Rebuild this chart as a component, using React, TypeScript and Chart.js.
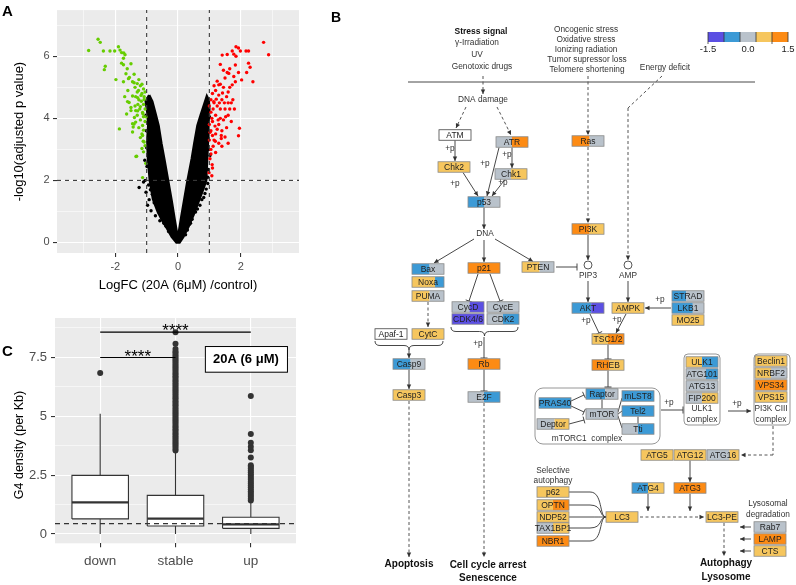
import React, { useEffect, useRef } from 'react';
import { Chart, registerables } from 'chart.js';

Chart.register(...registerables);

const FONT = '"Liberation Sans", Arial, Helvetica, sans-serif';

// ---------------- Panel A : volcano plot ----------------
const volcanoXTicks = [-3, -2, -1, 0, 1, 2, 3];
const volcanoYTicks = [0, 1, 2, 3, 4, 5, 6, 7];
const volcanoXLimits = [-3.86, 3.86];
const volcanoYLimits = [-0.34, 7.49];
const fcCutoffs = [-1, 1];
const pCutoff = 2;

// significantly down-regulated genes (green)
const downX = [-2.55, -2.48, -2.85, -2.38, -2.17, -2.02, -1.9, -1.85, -1.8, -1.73, -1.69, -1.74, -2.32, -2.35, -1.8, -1.74, -1.5, -1.66, -1.98, -1.74, -1.58, -1.45, -1.61, -1.37, -1.26, -1.87, -1.32, -1.13, -1.11, -1.13, -1.45, -1.39, -1.29, -1.5,
  -1.45, -1.29, -1.18, -1.08, -1.56, -1.37, -1.22, -1.13, -1.64, -1.4, -1.43, -1.13, -1.15, -1.45, -1.08, -1.15, -1.34,
  -1.2, -1.1, -1.3, -1.15, -1.05, -1.25, -1.35, -1.1, -1.2, -1.05, -1.3, -1.1, -1.2, -1.05, -1.35, -1.55, -1.4, -1.6, -1.5, -1.7, -1.25, -1.1, -1.2, -1.05, -1.1, -1.03, -1.62, -1.4, -1.12, -1.17, -1.08, -1.28, -1.02, -1.25, -1.35, -1.3, -1.15];
const downY = [6.55, 6.45, 6.19, 6.17, 6.17, 6.17, 6.31, 6.2, 6.12, 6.11, 6.05, 5.94, 5.68, 5.57, 5.78, 5.73, 5.76, 5.44, 5.25, 5.18, 5.28, 5.18, 4.54, 5.0, 4.9, 3.66, 2.78, 2.09, 3.26, 3.45, 3.83, 4.03, 4.24, 4.35,
  4.72, 4.67, 4.74, 4.61, 4.51, 4.4, 4.3, 4.19, 4.14, 3.82, 3.72, 3.77, 3.5, 3.56, 3.24, 3.03, 2.77,
  5.05, 4.95, 4.85, 4.8, 4.85, 4.6, 4.7, 4.45, 4.38, 4.3, 4.1, 4.05, 3.95, 3.9, 3.88, 5.32, 5.42, 4.9, 4.25, 4.7, 5.25, 3.62, 3.38, 3.12, 2.92, 2.55, 5.6, 5.15, 4.15, 4.55, 4.7, 4.45, 4.05, 3.7, 4.25, 5.12, 5.1];

// significantly up-regulated genes (red)
const upX = [2.73, 2.89, 1.85, 1.93, 1.99, 2.17, 2.25, 1.73, 1.78, 1.57, 1.41, 1.85, 1.35, 1.83, 2.25, 2.3, 1.65, 1.57, 1.93, 2.19, 2.03, 1.83, 2.39, 1.73, 1.3, 1.96, 1.93, 1.09, 0.99, 1.38, 1.19, 1.14,
  1.05, 1.1, 1.2, 1.3, 1.15, 1.25, 1.4, 1.5, 1.05, 1.2, 1.35, 1.1, 1.3, 1.45, 1.6, 1.05, 1.2, 1.4, 1.15, 1.3, 1.5, 1.05, 1.2, 1.02, 1.1, 1.08, 1.55, 1.7, 1.6, 1.45, 1.35, 1.25, 1.5, 1.65, 1.75, 1.15, 1.0, 1.0, 1.35, 1.25, 1.55, 1.7, 1.8, 1.4, 1.6, 1.1, 1.05, 1.0,
  1.12, 1.22, 1.32, 1.42, 1.08, 1.18, 1.28, 1.38, 1.02, 1.12, 1.48, 1.6, 1.52, 1.65, 1.62, 1.78, 1.45];
const upY = [6.45, 6.05, 6.31, 6.27, 6.17, 6.17, 6.17, 6.17, 6.07, 6.06, 6.04, 6.0, 5.74, 5.72, 5.78, 5.65, 5.6, 5.48, 5.48, 5.48, 5.24, 5.18, 5.18, 5.08, 5.08, 3.68, 3.44, 2.51, 2.25, 3.35, 3.26, 4.54,
  4.6, 4.8, 4.9, 4.75, 4.5, 4.4, 4.6, 4.3, 4.2, 4.1, 4.0, 3.9, 3.8, 3.95, 4.1, 3.6, 3.5, 3.6, 3.3, 3.2, 3.4, 3.0, 2.9, 2.7, 2.4, 2.15, 4.7, 4.5, 4.85, 5.0, 5.1, 5.2, 5.3, 5.0, 4.6, 5.05, 4.4, 3.8, 4.3, 3.65, 3.7, 3.9, 4.3, 3.1, 3.2, 3.45, 2.85, 3.3,
  4.3, 4.62, 4.5, 4.82, 4.0, 3.75, 3.95, 3.45, 3.55, 3.1, 4.5, 4.5, 4.05, 4.3, 5.45, 5.35, 5.55];

// outline of the dense cloud of non-significant genes (black)
const stableHullX = [-0.92, -1.03, -0.98, -0.95, -0.98, -0.96, -0.9, -0.8, -0.65, -0.5, -0.35, -0.2, -0.05, 0.05, 0.17, 0.33, 0.5, 0.65, 0.8, 0.9, 0.93, 0.96, 0.97, 1.0, 0.98, 0.92,
  0.85, 0.72, 0.62, 0.52, 0.44, 0.3, 0.19, 0.1, 0.03, 0.0, -0.04, -0.1, -0.2, -0.31, -0.44, -0.53, -0.62, -0.73, -0.82, -0.92];
const stableHullY = [4.75, 4.55, 4.2, 3.8, 3.3, 2.7, 2.0, 1.4, 1.0, 0.7, 0.45, 0.18, 0.0, 0.0, 0.18, 0.5, 0.9, 1.3, 1.7, 2.0, 2.7, 3.3, 3.8, 4.3, 4.6, 4.72,
  4.5, 4.1, 3.77, 3.2, 2.71, 1.97, 1.33, 0.8, 0.35, 0.25, 0.35, 0.7, 1.33, 1.97, 2.71, 3.2, 3.77, 4.2, 4.55, 4.75];
// scattered non-significant genes at the edge of the cloud
const stableEdgeX = [-1.24, -0.92, -0.82, -0.78, -0.97, -0.86, -0.72, -1.02, -0.99, -1.0, -1.01, -1.02, 0.95, 0.86, 0.76, 0.62, 0.97, 0.98, 0.99, 1.0, -0.58, 0.45, -0.3, 0.3,
  -1.05, -0.94, -0.88, -0.76, -0.68, -0.6, -0.45, -1.06, -1.1, 0.9, 0.82, 0.7, 0.56, 0.4, 1.02, 0.95, -0.55, -0.38, 0.24, 0.36];
const stableEdgeY = [1.77, 1.38, 1.55, 2.22, 1.2, 1.02, 0.86, 1.62, 2.45, 3.05, 3.6, 4.1, 1.9, 1.58, 1.38, 1.08, 2.35, 3.0, 3.55, 4.05, 0.7, 0.75, 0.35, 0.4,
  2.0, 1.85, 1.7, 1.28, 1.15, 0.95, 0.62, 2.65, 1.95, 1.72, 1.45, 1.2, 0.98, 0.62, 2.8, 2.1, 0.88, 0.52, 0.25, 0.58];

// ---------------- Panel C : box plot ----------------
const boxCategories = ['down', 'stable', 'up'];
const boxLow = [0, 0, 0];
const boxQ1 = [0.64, 0.34, 0.24];
const boxMedian = [1.34, 0.65, 0.41];
const boxQ3 = [2.49, 1.64, 0.71];
const boxHigh = [5.11, 3.49, 1.37];
const downOutliers = [6.84];
const stableOutliers = [3.55, 3.62, 3.7, 3.78, 3.85, 3.93, 4.0, 4.08, 4.15, 4.23, 4.3, 4.38, 4.45, 4.53, 4.6, 4.68, 4.75, 4.83, 4.9, 4.98, 5.05, 5.13, 5.2, 5.28, 5.35, 5.43, 5.5, 5.58, 5.65, 5.73, 5.8, 5.88, 5.95, 6.03, 6.1, 6.18, 6.25, 6.33, 6.4, 6.48, 6.55, 6.63, 6.7, 6.78, 6.85, 6.93, 7.0, 7.08, 7.15, 7.23, 7.3, 7.38, 7.45, 7.53, 7.6, 7.68, 7.75, 7.85, 8.08, 8.57];
const upOutliers = [1.42, 1.5, 1.58, 1.66, 1.74, 1.82, 1.9, 1.98, 2.06, 2.14, 2.22, 2.3, 2.38, 2.46, 2.54, 2.62, 2.7, 2.78, 2.86, 2.92, 3.25, 3.56, 3.7, 3.87, 4.25, 5.86];
const boxYTicks = [0, 1.25, 2.5, 3.75, 5, 6.25, 7.5, 8.75];
const boxYLabels = [0, 2.5, 5, 7.5];
const boxYLimits = [-0.395, 9.17];
const boxXLimits = [-0.6, 2.6];
const genomeMedian = 0.44;
const sigFrom = [0, 0];
const sigTo = [2, 1];
const sigY = [8.57, 7.49];
const sigText = ['****', '****'];

// ---------------- Panel B : pathway diagram ----------------
const PAL: Record<string, string> = { P: '#5b4fe3', B: '#3c9ad6', G: '#b9c2cb', Y: '#f6c65e', O: '#fd8b14', W: '#ffffff' };
const legendColors = ['P', 'B', 'G', 'Y', 'O'];
const legendLabels = ['-1.5', '0.0', '1.5'];

const nodeLabels = ['ATM', 'ATR', 'Chk2', 'Chk1', 'Ras', 'p53', 'Bax', 'Noxa', 'PUMA', 'p21', 'PTEN', 'CycD', 'CycE', 'CDK4/6', 'CDK2', 'Apaf-1', 'CytC', 'Casp9', 'Casp3', 'Rb', 'E2F',
  'PI3K', 'AKT', 'AMPK', 'STRAD', 'LKB1', 'MO25', 'TSC1/2', 'RHEB', 'Raptor', 'mLST8', 'PRAS40', 'mTOR', 'Tel2', 'Tti', 'Deptor',
  'ULK1', 'ATG101', 'ATG13', 'FIP200', 'Beclin1', 'NRBF2', 'VPS34', 'VPS15', 'ATG5', 'ATG12', 'ATG16', 'ATG4', 'ATG3', 'LC3', 'LC3-PE', 'Rab7', 'LAMP', 'CTS',
  'p62', 'OPTN', 'NDP52', 'TAX1BP1', 'NBR1'];
const nodeX = [455, 512, 454, 511, 588, 484, 428, 428, 428, 484, 538, 468, 503, 468, 503, 391, 428, 409, 409, 484, 484,
  588, 588, 628, 688, 688, 688, 608, 608, 602, 638, 555, 602, 638, 638, 553,
  702, 702, 702, 702, 771, 771, 771, 771, 657, 690, 723, 648, 690, 622, 722, 770, 770, 770,
  553, 553, 553, 553, 553];
const nodeY = [135, 142, 167, 174, 141, 202, 269, 282, 296, 268, 267, 307, 307, 319, 319, 334, 334, 364, 395, 364, 397,
  229, 308, 308, 296, 308, 320, 339, 365, 394, 396, 403, 414, 411, 429, 424,
  362, 374, 386, 398, 361, 373, 385, 397, 455, 455, 455, 488, 488, 517, 517, 527, 539, 551,
  492, 505, 517, 528, 541];
const nodeLeft = ['W', 'G', 'Y', 'G', 'O', 'B', 'B', 'Y', 'Y', 'O', 'Y', 'G', 'G', 'P', 'G', 'W', 'Y', 'B', 'Y', 'O', 'G',
  'O', 'B', 'Y', 'B', 'B', 'Y', 'Y', 'O', 'B', 'B', 'B', 'G', 'B', 'G', 'G',
  'Y', 'G', 'G', 'G', 'Y', 'Y', 'O', 'Y', 'Y', 'Y', 'G', 'B', 'O', 'Y', 'Y', 'G', 'O', 'Y',
  'Y', 'Y', 'Y', 'G', 'O'];
const nodeRight = ['W', 'O', 'Y', 'Y', 'G', 'G', 'G', 'B', 'G', 'O', 'G', 'P', 'G', 'P', 'B', 'W', 'Y', 'G', 'Y', 'O', 'B',
  'Y', 'P', 'Y', 'G', 'G', 'Y', 'O', 'Y', 'G', 'B', 'B', 'G', 'B', 'B', 'Y',
  'B', 'B', 'G', 'Y', 'Y', 'G', 'O', 'Y', 'Y', 'Y', 'Y', 'Y', 'O', 'Y', 'Y', 'G', 'O', 'Y',
  'Y', 'O', 'Y', 'Y', 'O'];
const nodeSplit = [1, 0.5, 1, 0.5, 0.55, 0.5, 0.55, 0.72, 0.55, 1, 0.55, 0.55, 1, 1, 0.5, 1, 1, 0.55, 1, 1, 0.5,
  0.55, 0.6, 1, 0.45, 0.65, 1, 0.5, 0.55, 0.6, 1, 1, 1, 1, 0.5, 0.55,
  0.5, 0.62, 1, 0.5, 1, 0.5, 1, 1, 1, 1, 0.7, 0.5, 1, 1, 1, 1, 1, 1,
  1, 0.5, 1, 0.5, 1];

// edges: x1, y1, x2, y2, kind (a arrow, t inhibition, d dashed arrow, dl dashed line, l line)
const pathEdges: [number, number, number, number, string][] = [
  [408, 82, 755, 82, 'l'],
  [483, 76, 483, 94, 'd'], [466, 107, 456, 128, 'd'], [497, 107, 511, 135, 'd'],
  [455, 140.5, 455, 161, 'a'], [512, 147.5, 512, 168, 'a'], [499, 147.5, 487, 196, 'a'],
  [463, 172.5, 478, 196, 'a'], [505, 179.5, 492, 196, 'a'], [484, 207.5, 484, 229, 'a'],
  [474, 239, 434, 263, 'a'], [484, 240, 484, 262, 'a'], [495, 239, 533, 261.5, 'a'],
  [556, 267, 577, 267, 't'], [428, 302, 428, 327, 'd'], [409, 350, 409, 358, 'a'], [409, 369.5, 409, 389, 'a'],
  [478, 274, 469, 301, 't'], [490, 274, 500, 301, 't'], [484, 337, 484, 358, 't'], [484, 369.5, 484, 391, 't'],
  [409, 401, 409, 557, 'd'], [484, 403, 484, 557, 'd'],
  [588, 76, 588, 135, 'd'], [588, 147, 588, 223, 'd'], [662, 76, 628, 108, 'dl'], [628, 108, 628, 260, 'd'],
  [588, 235, 588, 260, 'a'], [588, 281, 588, 302, 'a'], [628, 281, 628, 302, 'a'], [671, 308, 645, 308, 'a'],
  [590, 314, 599, 333, 't'], [626, 314, 616, 333, 'a'], [608, 344.5, 608, 359, 't'], [608, 370.5, 608, 387, 't'],
  [571, 401, 584, 395, 't'], [571, 406, 584, 412, 't'], [569, 424, 584, 420, 't'],
  [602, 399.5, 602, 408.5, 'l'], [618, 412, 622, 398, 'l'], [618, 414, 622, 411, 'l'], [618, 416, 622, 428, 'l'], [638, 416.5, 638, 423.5, 'l'],
  [661, 410, 683, 410, 't'], [728, 411, 751, 411, 'a'],
  [773, 426, 773, 455, 'dl'], [773, 455, 741, 455, 'd'], [690, 460.5, 690, 482, 'a'],
  [648, 494, 648, 511, 'a'], [690, 494, 690, 511, 'a'], [640, 517, 704, 517, 'd'], [724, 523, 724, 556, 'd'],
  [751, 527, 740, 527, 'a'], [751, 539, 740, 539, 'a'], [751, 551, 740, 551, 'a'],
];

// texts: label, x, y, style (n normal, b bold small, B bold large)
const pathTexts: [string, number, number, string][] = [
  ['Stress signal', 481, 32, 'b'], ['γ-Irradiation', 477, 43, 'n'], ['UV', 477, 55, 'n'], ['Genotoxic drugs', 482, 67, 'n'],
  ['Oncogenic stress', 586, 30, 'n'], ['Oxidative stress', 586, 40, 'n'], ['Ionizing radiation', 586, 50, 'n'],
  ['Tumor supressor loss', 587, 60, 'n'], ['Telomere shortening', 587, 70, 'n'], ['Energy deficit', 665, 68, 'n'],
  ['DNA damage', 483, 99.5, 'n'], ['DNA', 485, 234, 'n'], ['PIP3', 588, 276, 'n'], ['AMP', 628, 276, 'n'],
  ['mTORC1  complex', 587, 438.5, 'n'], ['ULK1', 702, 409, 'n'], ['complex', 702, 420, 'n'],
  ['PI3K CIII', 771, 409, 'n'], ['complex', 771, 420, 'n'], ['Selective', 553, 471, 'n'], ['autophagy', 553, 481, 'n'],
  ['Lysosomal', 768, 504, 'n'], ['degradation', 768, 515, 'n'],
  ['Apoptosis', 409, 564, 'B'], ['Cell cycle arrest', 488, 565, 'B'], ['Senescence', 488, 578, 'B'],
  ['Autophagy', 726, 563, 'B'], ['Lysosome', 726, 577, 'B'],
  ['+p', 450, 149, 'n'], ['+p', 507, 155, 'n'], ['+p', 485, 164, 'n'], ['+p', 455, 184, 'n'], ['+p', 503, 183, 'n'],
  ['+p', 478, 344, 'n'], ['+p', 660, 300, 'n'], ['+p', 586, 321, 'n'], ['+p', 617, 320, 'n'], ['+p', 669, 403, 'n'], ['+p', 737, 404, 'n'],
];
const circleNodes: [number, number][] = [[588, 265], [628, 265]];
const complexBoxes: [number, number, number, number, number][] = [[535, 388, 660, 444, 8], [684, 354, 720, 425, 4], [754, 354, 790, 425, 4]];
const braces: [number, number, number, number][] = [[375, 443, 341, 9], [451, 518, 327, 9]];

// ---------------- helpers ----------------
const panelBg = {
  id: 'panelBg',
  beforeDraw(chart: any) {
    const { ctx, chartArea: a } = chart;
    ctx.save();
    ctx.fillStyle = '#EBEBEB';
    ctx.fillRect(a.left, a.top, a.right - a.left, a.bottom - a.top);
    ctx.restore();
  },
};

const pts = (xs: number[], ys: number[]) => xs.map((x, i) => ({ x, y: ys[i] }));
const isInt = (v: number, m: number) => Math.abs(v / m - Math.round(v / m)) < 1e-6;

function ggAxis(ticks: number[], isMajor: (v: number) => boolean, label: (v: number) => string, limits: number[], fontSize: number, pad: number, fit: (s: any) => void, title?: any) {
  return {
    type: 'linear',
    min: limits[0],
    max: limits[1],
    afterBuildTicks: (s: any) => { s.ticks = ticks.map((v) => ({ value: v })); },
    afterFit: fit,
    grid: {
      color: '#FFFFFF',
      lineWidth: (c: any) => (c.tick && isMajor(c.tick.value) ? 1.1 : 0.55),
      tickLength: 4,
      tickWidth: 1.1,
      tickColor: (c: any) => (c.tick && isMajor(c.tick.value) ? '#333333' : 'rgba(0,0,0,0)'),
    },
    border: { display: false },
    ticks: {
      autoSkip: false,
      maxRotation: 0,
      padding: pad,
      color: '#4D4D4D',
      font: { family: FONT, size: fontSize },
      callback: (v: any) => (isMajor(Number(v)) ? label(Number(v)) : ''),
    },
    title: title || { display: false },
  };
}

function volcanoConfig(): any {
  const dashed = { type: 'line', borderColor: '#3a3a3a', borderWidth: 1.1, borderDash: [4, 4], pointRadius: 0, order: 0 };
  return {
    type: 'scatter',
    data: {
      datasets: [
        { ...dashed, data: [{ x: fcCutoffs[0], y: volcanoYLimits[0] }, { x: fcCutoffs[0], y: volcanoYLimits[1] }] },
        { ...dashed, data: [{ x: fcCutoffs[1], y: volcanoYLimits[0] }, { x: fcCutoffs[1], y: volcanoYLimits[1] }] },
        { ...dashed, data: [{ x: volcanoXLimits[0], y: pCutoff }, { x: volcanoXLimits[1], y: pCutoff }] },
        { data: pts(downX, downY), backgroundColor: '#66CD00', pointRadius: 1.7, pointBorderWidth: 0, borderWidth: 0, order: 1 },
        { data: pts(upX, upY), backgroundColor: '#FF0000', pointRadius: 1.7, pointBorderWidth: 0, borderWidth: 0, order: 1 },
        { type: 'line', data: pts(stableHullX, stableHullY), fill: 'shape', backgroundColor: '#000', borderColor: '#000', borderWidth: 2.4, pointRadius: 0, order: 2 },
        { data: pts(stableEdgeX, stableEdgeY), backgroundColor: '#000', pointRadius: 1.7, pointBorderWidth: 0, borderWidth: 0, order: 2 },
      ],
    },
    options: {
      responsive: false,
      animation: false,
      events: [],
      layout: { padding: { left: 0, right: 11, top: 7, bottom: 0 } },
      plugins: { legend: { display: false }, tooltip: { enabled: false } },
      scales: {
        x: ggAxis(volcanoXTicks, (v) => isInt(v, 2), (v) => String(v), volcanoXLimits, 11, 3, (s: any) => { s.height = 47; },
          { display: true, text: 'LogFC (20A (6\u03bcM) /control)', color: '#000', font: { family: FONT, size: 13 }, padding: { top: 0, bottom: 7 } }),
        y: ggAxis(volcanoYTicks, (v) => isInt(v, 2), (v) => String(v), volcanoYLimits, 11, 3.5, (s: any) => { s.width = 57; },
          { display: true, text: '-log10(adjusted p value)', color: '#000', font: { family: FONT, size: 13 }, padding: { top: 12, bottom: 0 } }),
      },
    },
    plugins: [panelBg],
  };
}

function boxConfig(): any {
  const hw = 0.375;
  const line = { type: 'line', borderColor: '#333', borderWidth: 1.1, pointRadius: 0 };
  const datasets: any[] = [];
  datasets.push({ ...line, data: [{ x: boxXLimits[0], y: genomeMedian }, { x: boxXLimits[1], y: genomeMedian }], borderDash: [5, 4], order: 0 });
  sigFrom.forEach((f, k) => {
    datasets.push({ ...line, borderColor: '#000', data: [{ x: f, y: sigY[k] }, { x: sigTo[k], y: sigY[k] }], order: 0 });
  });
  boxCategories.forEach((_, i) => {
    datasets.push({ ...line, data: [{ x: i - hw, y: boxMedian[i] }, { x: i + hw, y: boxMedian[i] }], borderWidth: 2.3, order: 1 });
    datasets.push({ ...line, fill: 'shape', backgroundColor: '#FFFFFF', order: 2,
      data: [{ x: i - hw, y: boxQ1[i] }, { x: i + hw, y: boxQ1[i] }, { x: i + hw, y: boxQ3[i] }, { x: i - hw, y: boxQ3[i] }, { x: i - hw, y: boxQ1[i] }] });
    datasets.push({ ...line, data: [{ x: i, y: boxLow[i] }, { x: i, y: boxQ1[i] }], order: 3 });
    datasets.push({ ...line, data: [{ x: i, y: boxQ3[i] }, { x: i, y: boxHigh[i] }], order: 3 });
  });
  [downOutliers, stableOutliers, upOutliers].forEach((arr, i) => {
    datasets.push({ data: arr.map((y) => ({ x: i, y })), backgroundColor: '#333', pointRadius: 3, pointBorderWidth: 0, borderWidth: 0, order: 3 });
  });

  const annot = {
    id: 'boxAnnot',
    afterDatasetsDraw(chart: any) {
      const { ctx, scales } = chart;
      const X = (v: number) => scales.x.getPixelForValue(v);
      const Y = (v: number) => scales.y.getPixelForValue(v);
      ctx.save();
      ctx.fillStyle = '#000';
      ctx.textAlign = 'center';
      ctx.textBaseline = 'alphabetic';
      ctx.font = `17px ${FONT}`;
      sigFrom.forEach((f, k) => {
        ctx.fillText(sigText[k], (X(f) + X(sigTo[k])) / 2, Y(sigY[k]) + 4);
      });
      // condition label
      const x0 = X(1.39), x1 = X(2.48), y0 = Y(7.98), y1 = Y(6.89);
      ctx.fillStyle = '#FFFFFF';
      ctx.fillRect(x0, y0, x1 - x0, y1 - y0);
      ctx.strokeStyle = '#000';
      ctx.lineWidth = 1;
      ctx.strokeRect(x0 + 0.5, y0 + 0.5, x1 - x0, y1 - y0);
      ctx.fillStyle = '#000';
      ctx.font = `bold 13px ${FONT}`;
      ctx.textBaseline = 'middle';
      ctx.fillText('20A (6 \u03bcM)', (x0 + x1) / 2, (y0 + y1) / 2 + 0.5);
      // y title
      ctx.translate(20, 145);
      ctx.rotate(-Math.PI / 2);
      ctx.font = `12.5px ${FONT}`;
      ctx.fillText('G4 density (per Kb)', 0, 0);
      ctx.restore();
    },
  };

  return {
    type: 'scatter',
    data: { datasets },
    options: {
      responsive: false,
      animation: false,
      events: [],
      layout: { padding: { left: 0, right: 14, top: 18, bottom: 0 } },
      plugins: { legend: { display: false }, tooltip: { enabled: false } },
      scales: {
        x: ggAxis([0, 1, 2], () => true, (v) => boxCategories[Math.round(v)], boxXLimits, 13.5, 5.5, (s: any) => { s.height = 41.7; }),
        y: ggAxis(boxYTicks, (v) => boxYLabels.some((l) => Math.abs(l - v) < 1e-6), (v) => String(v), boxYLimits, 13, 4, (s: any) => { s.width = 55; }),
      },
    },
    plugins: [panelBg, annot],
  };
}

function pathwayConfig(): any {
  const plugin = {
    id: 'pathway',
    afterDraw(chart: any) {
      const { ctx, scales } = chart;
      const X = (v: number) => scales.x.getPixelForValue(v);
      const Y = (v: number) => scales.y.getPixelForValue(v);
      ctx.save();
      // complex containers
      complexBoxes.forEach(([x0, y0, x1, y1, r]) => {
        ctx.beginPath();
        ctx.roundRect(X(x0), Y(y0), X(x1) - X(x0), Y(y1) - Y(y0), r);
        ctx.strokeStyle = '#8a8a8a';
        ctx.lineWidth = 0.9;
        ctx.stroke();
      });
      // edges
      pathEdges.forEach(([a, b, c, d, kind]) => {
        const x1 = X(a), y1 = Y(b), x2 = X(c), y2 = Y(d);
        const dashed = kind[0] === 'd';
        ctx.strokeStyle = dashed ? '#555' : '#333';
        ctx.fillStyle = '#333';
        ctx.lineWidth = dashed ? 1 : 0.9;
        ctx.setLineDash(dashed ? [3, 2.5] : []);
        ctx.beginPath();
        ctx.moveTo(x1, y1);
        ctx.lineTo(x2, y2);
        ctx.stroke();
        ctx.setLineDash([]);
        const ang = Math.atan2(y2 - y1, x2 - x1);
        const cs = Math.cos(ang), sn = Math.sin(ang);
        if (kind === 'a' || kind === 'd') {
          ctx.beginPath();
          ctx.moveTo(x2, y2);
          ctx.lineTo(x2 - 4.5 * cs + 2.2 * sn, y2 - 4.5 * sn - 2.2 * cs);
          ctx.lineTo(x2 - 4.5 * cs - 2.2 * sn, y2 - 4.5 * sn + 2.2 * cs);
          ctx.closePath();
          ctx.fill();
        } else if (kind === 't') {
          ctx.beginPath();
          ctx.moveTo(x2 + 3.5 * sn, y2 - 3.5 * cs);
          ctx.lineTo(x2 - 3.5 * sn, y2 + 3.5 * cs);
          ctx.stroke();
        }
      });
      // braces
      braces.forEach(([a, b, y0, dep]) => {
        const x1 = X(a), x2 = X(b), t = Y(y0), m = (x1 + x2) / 2, h = dep;
        ctx.beginPath();
        ctx.moveTo(x1, t);
        ctx.quadraticCurveTo(x1, t + h / 2, x1 + 5, t + h / 2);
        ctx.lineTo(m - 5, t + h / 2);
        ctx.quadraticCurveTo(m, t + h / 2, m, t + h);
        ctx.quadraticCurveTo(m, t + h / 2, m + 5, t + h / 2);
        ctx.lineTo(x2 - 5, t + h / 2);
        ctx.quadraticCurveTo(x2, t + h / 2, x2, t);
        ctx.strokeStyle = '#333';
        ctx.lineWidth = 0.9;
        ctx.stroke();
      });
      // selective autophagy receptors converging on LC3
      const lc3 = nodeLabels.indexOf('LC3');
      ['p62', 'OPTN', 'NDP52', 'TAX1BP1', 'NBR1'].forEach((n) => {
        const i = nodeLabels.indexOf(n);
        const y = Y(nodeY[i]), ty = Y(nodeY[lc3]);
        ctx.beginPath();
        ctx.moveTo(X(nodeX[i] + 16), y);
        ctx.lineTo(X(590), y);
        ctx.bezierCurveTo(X(603), y, X(599), ty, X(nodeX[lc3] - 16), ty);
        ctx.strokeStyle = '#333';
        ctx.lineWidth = 0.9;
        ctx.stroke();
      });
      // small metabolite circles
      circleNodes.forEach(([cx, cy]) => {
        ctx.beginPath();
        ctx.arc(X(cx), Y(cy), 4, 0, Math.PI * 2);
        ctx.fillStyle = '#fff';
        ctx.fill();
        ctx.strokeStyle = '#444';
        ctx.lineWidth = 0.9;
        ctx.stroke();
      });
      // gene nodes
      const w = 32, h = 10.5;
      ctx.textAlign = 'center';
      ctx.textBaseline = 'middle';
      nodeLabels.forEach((lab, i) => {
        const l = X(nodeX[i]) - w / 2, t = Y(nodeY[i]) - h / 2;
        ctx.fillStyle = PAL[nodeLeft[i]];
        ctx.fillRect(l, t, w * nodeSplit[i], h);
        ctx.fillStyle = PAL[nodeRight[i]];
        ctx.fillRect(l + w * nodeSplit[i], t, w * (1 - nodeSplit[i]), h);
        ctx.strokeStyle = nodeLeft[i] === 'W' ? '#444' : '#8a8a8a';
        ctx.lineWidth = 0.8;
        ctx.strokeRect(l, t, w, h);
        ctx.fillStyle = '#222';
        ctx.font = `8.5px ${FONT}`;
        ctx.fillText(lab, l + w / 2, t + h / 2 + 0.5);
      });
      // texts
      pathTexts.forEach(([s, x, y, st]) => {
        ctx.font = st === 'B' ? `bold 10px ${FONT}` : st === 'b' ? `bold 8.5px ${FONT}` : `8.3px ${FONT}`;
        ctx.fillStyle = st === 'n' ? '#333' : '#111';
        ctx.fillText(s, X(x), Y(y));
      });
      // colour key
      const segW = 16, lx = X(708), ly = Y(32), lh = 10;
      legendColors.forEach((c, i) => {
        ctx.fillStyle = PAL[c];
        ctx.fillRect(lx + i * segW, ly, segW, lh);
      });
      ctx.strokeStyle = '#333';
      ctx.lineWidth = 0.8;
      for (let i = 0; i <= legendColors.length; i++) {
        ctx.beginPath();
        ctx.moveTo(lx + i * segW, ly);
        ctx.lineTo(lx + i * segW, ly + lh + (i % 2 === 0 && i !== 2 ? 2 : 0));
        ctx.stroke();
      }
      ctx.font = `9.5px ${FONT}`;
      ctx.fillStyle = '#222';
      legendLabels.forEach((s, i) => {
        ctx.fillText(s, lx + i * 40, ly + lh + 7.5);
      });
      ctx.restore();
    },
  };
  return {
    type: 'scatter',
    data: { datasets: [] },
    options: {
      responsive: false,
      animation: false,
      events: [],
      layout: { padding: 0 },
      plugins: { legend: { display: false }, tooltip: { enabled: false } },
      scales: {
        x: { type: 'linear', min: 330, max: 796, display: false },
        y: { type: 'linear', min: 0, max: 585, reverse: true, display: false },
      },
    },
    plugins: [plugin],
  };
}

const letterStyle = (left: number, top: number, size: number): React.CSSProperties => ({
  position: 'absolute', left, top, fontFamily: FONT, fontWeight: 'bold', fontSize: size, lineHeight: `${size}px`, color: '#000',
});

export default function App() {
  const aRef = useRef<HTMLCanvasElement>(null);
  const bRef = useRef<HTMLCanvasElement>(null);
  const cRef = useRef<HTMLCanvasElement>(null);
  useEffect(() => {
    const charts = [
      new Chart(aRef.current as HTMLCanvasElement, volcanoConfig()),
      new Chart(cRef.current as HTMLCanvasElement, boxConfig()),
      new Chart(bRef.current as HTMLCanvasElement, pathwayConfig()),
    ];
    return () => charts.forEach((c) => c.destroy());
  }, []);
  return (
    <div style={{ position: 'fixed', left: 0, top: 0, width: 796, height: 585, background: '#fff', overflow: 'hidden' }}>
      <canvas ref={aRef} width={310} height={300} style={{ position: 'absolute', left: 0, top: 0, width: 310, height: 300 }} />
      <canvas ref={cRef} width={310} height={285} style={{ position: 'absolute', left: 0, top: 300, width: 310, height: 285 }} />
      <canvas ref={bRef} width={466} height={585} style={{ position: 'absolute', left: 330, top: 0, width: 466, height: 585 }} />
      <div style={letterStyle(2, 3, 15)}>A</div>
      <div style={letterStyle(331, 10, 14)}>B</div>
      <div style={letterStyle(2, 343, 15)}>C</div>
    </div>
  );
}
